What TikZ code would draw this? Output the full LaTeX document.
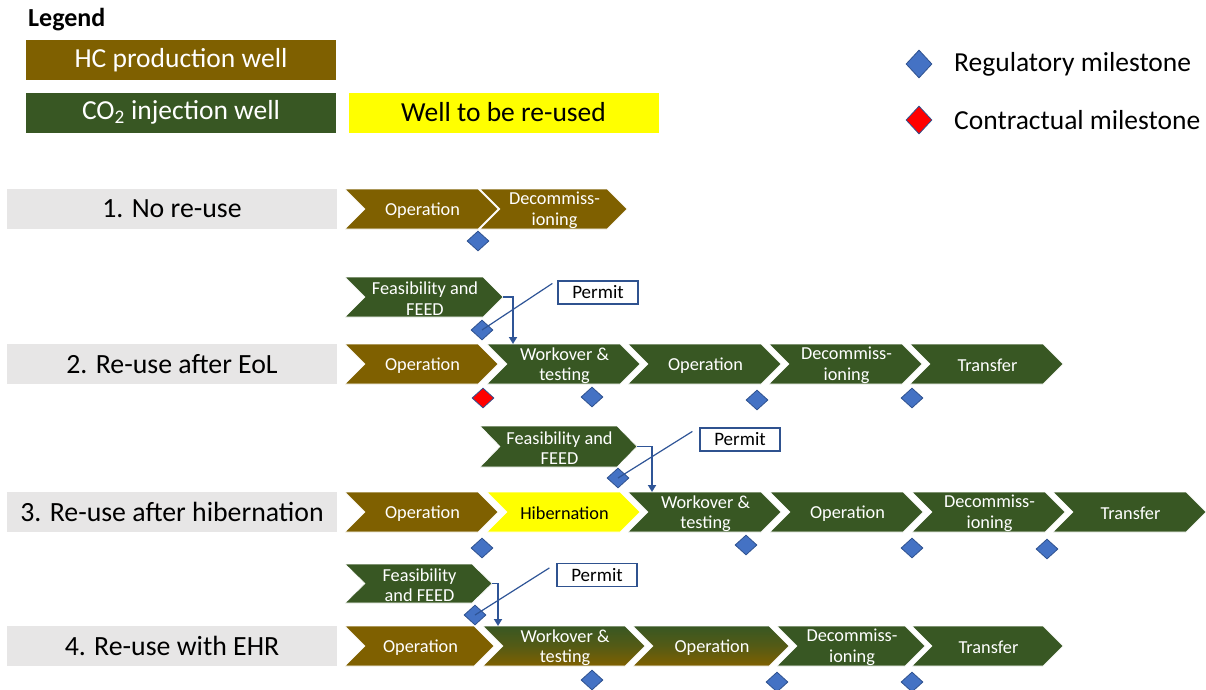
\documentclass[tikz,border=0pt]{standalone}
\usepackage{fontspec}
\setmainfont{Carlito}
\usetikzlibrary{shapes.geometric,arrows.meta,calc}
\definecolor{cbrown}{HTML}{7F6000}
\definecolor{cgreen}{HTML}{385723}
\definecolor{cgrey}{HTML}{E7E6E6}
\definecolor{cyel}{HTML}{FFFF00}
\definecolor{mblue}{HTML}{4472C4}
\definecolor{dblue}{HTML}{2F528F}
\definecolor{lblue}{HTML}{2F5597}
% #1 name, #2 left x, #3 tip x, #4 top y, #5 bottom y, #6 fill style, #7 text style, #8 text
\newcommand{\chev}[8]{%
  \path[chevshape,#6] (#2,#4) -- ({#3-20},#4) -- (#3,{(#4+#5)/2}) -- ({#3-20},#5) -- (#2,#5) -- ({#2+20},{(#4+#5)/2}) -- cycle;
  \coordinate (#1-tip) at (#3,{(#4+#5)/2});
  \node[chevtext,#7] (#1) at ({(#2+#3)/2+1},{(#4+#5)/2+1.5}) {#8};
}
\begin{document}
\begin{tikzpicture}[x=1pt,y=-1pt,
  chevshape/.style={draw=white,line width=0.6pt},
  brownfill/.style={fill=cbrown},
  greenfill/.style={fill=cgreen},
  yelfill/.style={fill=cyel},
  gradfill/.style={top color=cgreen,bottom color=cbrown,middle color=cgreen!60!cbrown},
  chevtext/.style={text=white,align=center,inner sep=0pt,font=\fontsize{18.3}{20.5}\selectfont},
  darktext/.style={text=black},
  legbox/.style={minimum width=310pt,minimum height=40pt,inner sep=0pt,font=\fontsize{27.5}{31}\selectfont},
  legtext/.style={anchor=west,inner sep=0pt,font=\fontsize{27.5}{31}\selectfont},
  rowlab/.style={fill=cgrey,minimum width=330pt,minimum height=40pt,inner sep=0pt,font=\fontsize{27.8}{31}\selectfont},
  ms/.style={diamond,draw=dblue,fill=mblue,line width=0.8pt,minimum width=22pt,minimum height=20pt,inner sep=0pt},
  msred/.style={ms,fill=red},
  permit/.style={draw=dblue,fill=white,line width=1.2pt,minimum width=80pt,minimum height=23pt,inner sep=0pt,font=\fontsize{19}{21}\selectfont},
  plink/.style={draw=lblue,line width=1.2pt},
  elbow/.style={draw=lblue,line width=1.8pt,-{Triangle[width=8pt,length=7pt]}}
]
\useasboundingbox (0,0) rectangle (1206,689);

% Legend
\node[anchor=west,inner sep=0pt,font=\bfseries\fontsize{26}{30}\selectfont] (leg) at (28,20) {Legend};
\node[legbox,fill=cbrown,text=white] (lhc) at (181,60) {HC production well};
\node[legbox,fill=cgreen,text=white] (lco) at (181,112.5) {CO\textsubscript{2} injection well};
\node[legbox,fill=cyel] (lre) at (503.5,112.5) {Well to be re-used};
\node[ms,minimum width=26pt,minimum height=28pt] (lreg) at (919,64) {};
\node[legtext] (lregt) at (954,64) {Regulatory milestone};
\node[msred,minimum width=26pt,minimum height=28pt] (lcon) at (919,120) {};
\node[legtext] (lcont) at (954,120) {Contractual milestone};

% Row labels
\node[rowlab] (r1) at (172,209) {1. No re-use};
\node[rowlab] (r2) at (172,364) {2. Re-use after EoL};
\node[rowlab] (r3) at (172,512) {3. Re-use after hibernation};
\node[rowlab] (r4) at (172,646) {4. Re-use with EHR};

% Row 1
\chev{a1}{345}{498}{189}{229}{brownfill}{}{Operation}
\chev{a2}{480}{627}{189}{229}{brownfill}{}{Decommiss-\\ioning}
\node[ms] (m11) at (478,241) {};

% Row 2
\chev{f2}{345}{503}{277}{317}{greenfill}{}{Feasibility and\\FEED}
\node[permit] (p2) at (598,292.5) {Permit};
\node[ms] (d2) at (482,330) {};
\draw[plink] ($(p2.north west)+(-5,3)$) -- (d2.center);
\chev{b1}{345}{498}{344}{384}{brownfill}{}{Operation}
\chev{b2}{487}{640}{344}{384}{greenfill}{}{Workover \&\\testing}
\chev{b3}{628}{781}{344}{384}{greenfill}{}{Operation}
\chev{b4}{769}{922}{344}{384}{greenfill}{}{Decommiss-\\ioning}
\chev{b5}{910}{1063}{344}{384}{greenfill}{}{Transfer}
\coordinate (b2in) at (513,344);
\draw[elbow] (f2-tip) -| (b2in);
\node[msred] (m21) at (483,398) {};
\node[ms] (m22) at (592,397) {};
\node[ms] (m23) at (757,400) {};
\node[ms] (m24) at (912,398) {};

% Row 3
\chev{f3}{480}{637}{426}{467}{greenfill}{}{Feasibility and\\FEED}
\node[permit] (p3) at (740,439.5) {Permit};
\node[ms] (d3) at (618,478) {};
\draw[plink] ($(p3.north west)+(-7,4)$) -- (d3.center);
\chev{c1}{345}{498}{492}{532}{brownfill}{}{Operation}
\chev{c2}{487}{640}{492}{532}{yelfill}{darktext}{Hibernation}
\chev{c3}{628}{781}{492}{532}{greenfill}{}{Workover \&\\testing}
\chev{c4}{770}{923}{492}{532}{greenfill}{}{Operation}
\chev{c5}{912}{1065}{492}{532}{greenfill}{}{Decommiss-\\ioning}
\chev{c6}{1053}{1206}{492}{532}{greenfill}{}{Transfer}
\coordinate (c3in) at (652,492);
\draw[elbow] (f3-tip) -| (c3in);
\node[ms] (m31) at (482,548) {};
\node[ms] (m32) at (746,545) {};
\node[ms] (m33) at (912,548) {};
\node[ms] (m34) at (1047,549) {};

% Row 4
\chev{f4}{345}{492}{564}{603}{greenfill}{}{Feasibility\\and FEED}
\node[permit] (p4) at (597,575) {Permit};
\node[ms] (d4) at (475,615) {};
\draw[plink] ($(p4.north west)+(-7,5)$) -- (d4.center);
\chev{e1}{345}{494}{626}{666}{brownfill}{}{Operation}
\chev{e2}{483}{645}{626}{666}{gradfill}{}{Workover \&\\testing}
\chev{e3}{633}{789}{626}{666}{gradfill}{}{Operation}
\chev{e4}{777}{925}{626}{666}{greenfill}{}{Decommiss-\\ioning}
\chev{e5}{912}{1063}{626}{666}{greenfill}{}{Transfer}
\coordinate (e2in) at (498,626);
\draw[elbow] (f4-tip) -| (e2in);
\node[ms] (m41) at (592,680) {};
\node[ms] (m42) at (777,682) {};
\node[ms] (m43) at (912,682) {};
\end{tikzpicture}
\end{document}
